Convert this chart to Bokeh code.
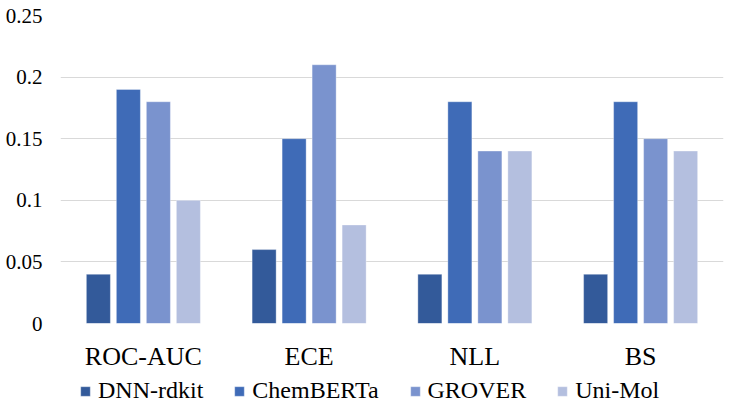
from bokeh.plotting import figure
from bokeh.layouts import column
from bokeh.models import (ColumnDataSource, FactorRange, Range1d, FixedTicker,
                          Legend, LegendItem)
from bokeh.transform import dodge
from bokeh.embed import file_html
from bokeh.resources import INLINE

categories = ["ROC-AUC", "ECE", "NLL", "BS"]
series_names = ["DNN-rdkit", "ChemBERTa", "GROVER", "Uni-Mol"]
dnn_rdkit = [0.04, 0.06, 0.04, 0.04]
chemberta = [0.19, 0.15, 0.18, 0.18]
grover = [0.18, 0.21, 0.14, 0.15]
uni_mol = [0.10, 0.08, 0.14, 0.14]
colors = ["#335A9A", "#3F6BB7", "#7A93CE", "#B4BFDF"]
y_ticks = [0, 0.05, 0.1, 0.15, 0.2, 0.25]
y_tick_labels = ["0", "0.05", "0.1", "0.15", "0.2", "0.25"]

FONT = "Liberation Serif"

source = ColumnDataSource(dict(cat=categories, s0=dnn_rdkit, s1=chemberta,
                               s2=grover, s3=uni_mol))

p = figure(width=731, height=373, x_range=FactorRange(*categories),
           y_range=Range1d(0, 0.25), output_backend="svg",
           toolbar_location=None, min_border_left=60, min_border_right=8,
           min_border_top=15, min_border_bottom=50)

p.outline_line_color = None
p.background_fill_color = "white"
p.border_fill_color = "white"

step = 0.181
width = 0.145
offsets = [-1.5 * step, -0.5 * step, 0.5 * step, 1.5 * step]
renderers = []
for i, (col, c) in enumerate(zip(["s0", "s1", "s2", "s3"], colors)):
    r = p.vbar(x=dodge("cat", offsets[i], range=p.x_range), top=col,
               width=width, source=source, fill_color=c,
               line_color="white", line_alpha=0.35, line_width=1)
    renderers.append(r)

# axes
p.xgrid.grid_line_color = None
p.ygrid.grid_line_color = "#D9D9D9"
p.ygrid.grid_line_width = 1
p.yaxis.ticker = FixedTicker(ticks=y_ticks)
p.yaxis.major_label_overrides = {t: l for t, l in zip(y_ticks, y_tick_labels)}
for ax in (p.xaxis, p.yaxis):
    ax.axis_line_color = None
    ax.major_tick_line_color = None
    ax.minor_tick_line_color = None
    ax.major_tick_out = 0
    ax.major_tick_in = 0
    ax.major_label_text_font = FONT
    ax.major_label_text_color = "#000000"
p.yaxis.major_label_text_font_size = "21px"
p.yaxis.major_label_standoff = 18
p.xaxis.major_label_text_font_size = "26px"
p.xaxis.major_label_standoff = 18

# legend strip below the chart (same bar renderers' styles, drawn off-range)
lg = figure(width=731, height=38, x_range=Range1d(0, 1), y_range=Range1d(0, 1),
            x_axis_location=None, y_axis_location=None,
            output_backend="svg", toolbar_location=None,
            min_border_left=0, min_border_right=0, min_border_top=0,
            min_border_bottom=0)
lg.grid.visible = False
lg.outline_line_color = None
lg.background_fill_color = "white"
lg.border_fill_color = "white"
dummy_src = ColumnDataSource(dict(x=[-10.0], top=[-10.0]))
dummies = [lg.vbar(x="x", top="top", width=0.1, source=dummy_src,
                   fill_color=c, line_color="white", line_alpha=0.35)
           for c in colors]

legend = Legend(items=[LegendItem(label=n, renderers=[r])
                       for n, r in zip(series_names, dummies)],
                orientation="horizontal", location=(19, 7),
                label_text_font=FONT, label_text_font_size="24px",
                label_text_color="#000000", label_height=24,
                glyph_width=12, glyph_height=12, label_standoff=7,
                spacing=30, padding=0, margin=0,
                border_line_color=None, background_fill_alpha=0)
lg.add_layout(legend, "center")

layout = column(p, lg, spacing=0)
open("out.html", "w").write(file_html(layout, INLINE))
